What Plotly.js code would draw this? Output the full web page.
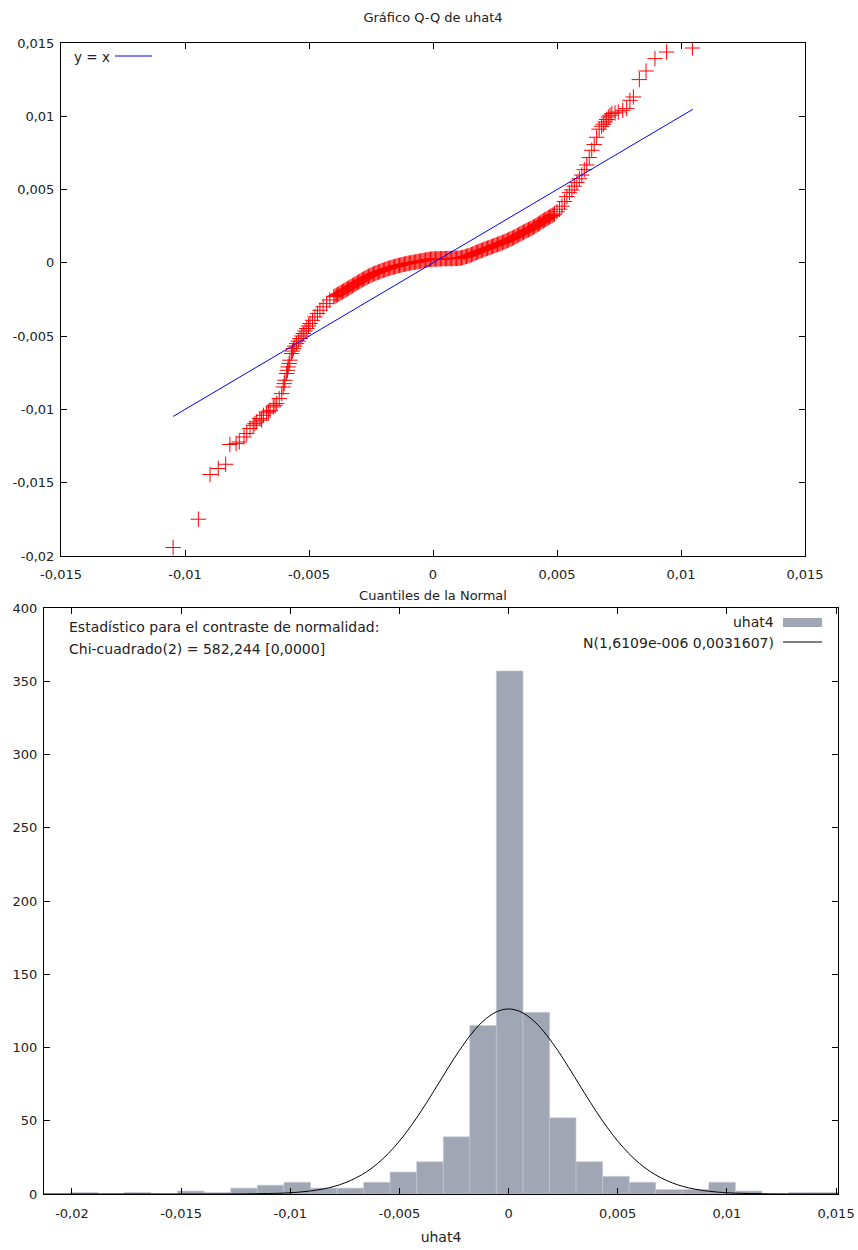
<!DOCTYPE html>
<html>
<head>
<meta charset="utf-8">
<script src="https://cdn.plot.ly/plotly-3.0.1.min.js"></script>
<style>html,body{margin:0;padding:0;background:#fff;}#chart{width:858px;height:1250px;}</style>
</head>
<body>
<div id="chart"></div>
<script>
// ---------- Q-Q plot data (normal quantile, sorted uhat4) ----------
const qqX = [
 -0.01048,-0.00946,-0.00899,-0.00866,-0.00836,-0.00819,-0.00794,-0.00781,-0.00762,-0.00751,
 -0.00738,-0.00725,-0.00718,-0.00711,-0.00698,-0.00691,-0.00684,-0.00671,-0.00664,-0.00657,
 -0.00644,-0.00637,-0.00630,-0.00620,-0.00610,-0.00604,-0.00600,-0.00597,-0.00590,-0.00587,
 -0.00584,-0.00580,-0.00577,-0.00570,-0.00567,-0.00563,-0.00557,-0.00550,-0.00543,-0.00536,
 -0.00529,-0.00523,-0.00516,-0.00509,-0.00502,-0.00496,-0.00486,-0.00476,-0.00466,-0.00456,
 -0.00443,-0.00429,-0.00416,
 -0.0040,-0.0039,-0.0038,-0.0037,-0.0036,-0.0035,-0.0034,-0.0033,-0.0032,-0.0031,
 -0.0030,-0.0029,-0.0028,-0.0027,-0.0026,-0.0025,-0.0024,-0.0023,-0.0022,-0.0021,
 -0.0020,-0.0019,-0.0018,-0.0017,-0.0016,-0.0015,-0.0014,-0.0013,-0.0012,-0.0011,
 -0.0010,-0.0009,-0.0008,-0.0007,-0.0006,-0.0005,-0.0004,-0.0003,-0.0002,-0.0001,
 0.0000,0.0001,0.0002,0.0003,0.0004,0.0005,0.0006,0.0007,0.0008,0.0009,
 0.0010,0.0011,0.0012,0.0013,0.0014,0.0015,0.0016,0.0017,0.0018,0.0019,
 0.0020,0.0021,0.0022,0.0023,0.0024,0.0025,0.0026,0.0027,0.0028,0.0029,
 0.0030,0.0031,0.0032,0.0033,0.0034,0.0035,0.0036,0.0037,0.0038,0.0039,
 0.0040,0.0041,0.0042,0.0043,0.0044,0.0045,0.0046,0.0047,0.0048,0.0049,
 0.0050,0.0051,0.0052,0.0053,0.0054,0.0055,0.0056,0.0057,0.0058,0.0059,
 0.0060,0.0061,0.0062,0.0063,0.0064,0.0065,0.0066,0.0067,
 0.00680,0.00687,0.00694,0.00700,0.00707,0.00714,0.00721,0.00734,0.00747,0.00765,
 0.00781,0.00794,0.00808,0.00832,0.00859,0.00895,0.00942,0.01046,
 -0.00395,-0.00385,-0.00375,-0.00365,-0.00355,-0.00345,-0.00335,-0.00325,-0.00315,-0.00305,
 -0.00295,-0.00285,-0.00275,-0.00265,-0.00255,-0.00245,-0.00235,-0.00225,-0.00215,-0.00205,
 -0.00195,-0.00185,-0.00175,-0.00165,-0.00155,-0.00145,-0.00135,-0.00125,-0.00115,-0.00105,
 -0.00095,-0.00085,-0.00075,-0.00065,-0.00055,-0.00045,-0.00035,-0.00025,-0.00015,-0.00005,
 0.00005,0.00015,0.00025,0.00035,0.00045,0.00055,0.00065,0.00075,0.00085,0.00095,
 0.00105,0.00115,0.00125,0.00135,0.00145,0.00155,0.00165,0.00175,0.00185,0.00195,
 0.00205,0.00215,0.00225,0.00235,0.00245,0.00255,0.00265,0.00275,0.00285,0.00295,
 0.00305,0.00315,0.00325,0.00335,0.00345,0.00355,0.00365,0.00375,0.00385,0.00395,
 0.00405,0.00415,0.00425,0.00435,0.00445,0.00455,0.00465,0.00475,0.00485
];
const qqY = [
 -0.01942,-0.01749,-0.01444,-0.01403,-0.01374,-0.01239,-0.01233,-0.01222,-0.01188,-0.01164,
 -0.01130,-0.01108,-0.01097,-0.01085,-0.01062,-0.01073,-0.01040,-0.01024,-0.01015,-0.01006,
 -0.00983,-0.00972,-0.00960,-0.00926,-0.00892,-0.00847,-0.00824,-0.00801,-0.00755,-0.00733,
 -0.00710,-0.00687,-0.00664,-0.00619,-0.00602,-0.00585,-0.00568,-0.00551,-0.00534,-0.00516,
 -0.00499,-0.00482,-0.00465,-0.00448,-0.00431,-0.00414,-0.00392,-0.00369,-0.00346,-0.00323,
 -0.00300,-0.00278,-0.00253,
 -0.002312,-0.002217,-0.002121,-0.002019,-0.001917,-0.001821,-0.001719,-0.001617,-0.001507,-0.001405,
 -0.001303,-0.001201,-0.001105,-0.001010,-0.000921,-0.000839,-0.000757,-0.000682,-0.000628,-0.000559,
 -0.000505,-0.000437,-0.000382,-0.000327,-0.000280,-0.000232,-0.000191,-0.000150,-0.000109,-0.000068,
 -0.000027,0.000000,0.000027,0.000061,0.000089,0.000123,0.000157,0.000184,0.000218,0.000246,
 0.000259,0.000266,0.000273,0.000280,0.000286,0.000286,0.000293,0.000293,0.000300,0.000307,
 0.000307,0.000321,0.000368,0.000423,0.000471,0.000525,0.000600,0.000675,0.000743,0.000812,
 0.000873,0.000941,0.001003,0.001064,0.001126,0.001194,0.001255,0.001316,0.001385,0.001453,
 0.001528,0.001610,0.001685,0.001767,0.001862,0.001958,0.002046,0.002135,0.002224,0.002306,
 0.002387,0.002490,0.002599,0.002708,0.002817,0.002926,0.003029,0.003131,0.003226,0.003329,
 0.003486,0.003656,0.003868,0.004181,0.004523,0.004788,0.004973,0.005232,0.005477,0.005737,
 0.005989,0.006358,0.006678,0.007183,0.007681,0.008070,0.008568,0.009120,
 0.009318,0.009460,0.009611,0.009780,0.009952,0.010070,0.010184,0.010225,0.010293,0.010409,
 0.010525,0.011091,0.011317,0.012503,0.013090,0.013936,0.014386,0.014659,
 -0.002265,-0.002169,-0.002070,-0.001968,-0.001869,-0.001770,-0.001668,-0.001562,-0.001456,-0.001354,
 -0.001252,-0.001153,-0.001058,-0.000966,-0.000880,-0.000798,-0.000720,-0.000655,-0.000594,-0.000532,
 -0.000471,-0.000410,-0.000355,-0.000304,-0.000256,-0.000212,-0.000171,-0.000130,-0.000089,-0.000048,
 -0.000014,0.000014,0.000044,0.000075,0.000106,0.000140,0.000171,0.000201,0.000232,0.000253,
 0.000263,0.000270,0.000277,0.000283,0.000286,0.000290,0.000293,0.000297,0.000304,0.000307,
 0.000314,0.000345,0.000396,0.000447,0.000498,0.000563,0.000638,0.000709,0.000778,0.000843,
 0.000907,0.000972,0.001034,0.001095,0.001160,0.001225,0.001286,0.001351,0.001419,0.001491,
 0.001569,0.001648,0.001726,0.001815,0.001910,0.002002,0.002091,0.002180,0.002265,0.002347,
 0.002439,0.002545,0.002654,0.002763,0.002872,0.002978,0.003080,0.003179,0.003278
];
const refLineX = [-0.01048, 0.01048];
const refLineY = [-0.01048, 0.01048];

// ---------- Histogram data ----------
const binCenters = [
 -0.01942,-0.01820,-0.01699,-0.01577,-0.01455,-0.01334,-0.01212,-0.01090,-0.00968,-0.00847,
 -0.00725,-0.00603,-0.00482,-0.00360,-0.00238,-0.00117,0.00005,0.00127,0.00248,0.00370,
 0.00492,0.00613,0.00735,0.00857,0.00978,0.01100,0.01222,0.01344,0.01465
];
const binCounts = [
 1,0,1,0,2,1,4,6,8,4,
 4,8,15,22,39,115,357,124,52,22,
 12,8,3,3,8,2,0,1,1
];
const binWidth = 0.001217;

// normal density curve
const normX = [
 -0.0213,-0.015,-0.014,-0.013,-0.012,-0.011,-0.010,-0.0095,-0.009,-0.0085,-0.008,-0.0075,
 -0.007,-0.0065,-0.006,-0.0055,-0.005,-0.0045,-0.004,-0.0035,-0.003,-0.0025,-0.002,-0.0015,
 -0.001,-0.0005,0,0.0005,0.001,0.0015,0.002,0.0025,0.003,0.0035,0.004,0.0045,0.005,0.0055,
 0.006,0.0065,0.007,0.0075,0.008,0.0085,0.009,0.0095,0.010,0.011,0.012,0.013,0.014,0.0151
];
const normY = [
 0,0,0,0,0.1,0.3,0.85,1.4,2.2,3.4,5.1,7.6,
 10.9,15.2,20.8,27.8,36.1,45.8,56.7,68.4,80.5,92.4,103.4,112.9,
 120.1,124.7,126.3,124.7,120.1,112.9,103.4,92.4,80.5,68.4,56.7,45.8,36.1,27.8,
 20.8,15.2,10.9,7.6,5.1,3.4,2.2,1.4,0.85,0.3,0.1,0,0,0
];

// ---------- Tick labels ----------
const qqXTickVals = [-0.015,-0.01,-0.005,0,0.005,0.01,0.015];
const qqXTickText = ['-0,015','-0,01','-0,005','0','0,005','0,01','0,015'];
const qqYTickVals = [-0.02,-0.015,-0.01,-0.005,0,0.005,0.01,0.015];
const qqYTickText = ['-0,02','-0,015','-0,01','-0,005','0','0,005','0,01','0,015'];
const hXTickVals = [-0.02,-0.015,-0.01,-0.005,0,0.005,0.01,0.015];
const hXTickText = ['-0,02','-0,015','-0,01','-0,005','0','0,005','0,01','0,015'];
const hYTickVals = [0,50,100,150,200,250,300,350,400];
const hYTickText = ['0','50','100','150','200','250','300','350','400'];

// ---------- Text ----------
const qqTitle = 'Gráfico Q-Q de uhat4';
const qqXTitle = 'Cuantiles de la Normal';
const qqLegend = 'y = x';
const hXTitle = 'uhat4';
const statLine1 = 'Estadístico para el contraste de normalidad:';
const statLine2 = 'Chi-cuadrado(2) = 582,244 [0,0000]';
const legHist = 'uhat4';
const legNorm = 'N(1,6109e-006 0,0031607)';

const W = 858, H = 1250;
const px = v => v / W;
const py = v => 1 - v / H;
const txt = '#222';
const FONT = 'DejaVu Sans';

const traces = [
  {x: qqX, y: qqY, xaxis: 'x', yaxis: 'y', type: 'scatter', mode: 'markers',
   marker: {symbol: 'cross-thin', size: 11, color: '#ff0000', line: {color: '#ff0000', width: 1}},
   showlegend: false, hoverinfo: 'skip'},
  {x: refLineX, y: refLineY, xaxis: 'x', yaxis: 'y', type: 'scatter', mode: 'lines',
   line: {color: '#0000ff', width: 1}, showlegend: false, hoverinfo: 'skip'},
  {x: binCenters, y: binCounts, xaxis: 'x2', yaxis: 'y2', type: 'bar', width: binWidth,
   marker: {color: '#a0a6b4', line: {color: '#c4c8d2', width: 0.6}}, showlegend: false, hoverinfo: 'skip'},
  {x: normX, y: normY, xaxis: 'x2', yaxis: 'y2', type: 'scatter', mode: 'lines',
   line: {color: '#000000', width: 1, shape: 'spline', smoothing: 1}, showlegend: false, hoverinfo: 'skip'}
];

const axBase = {
  showgrid: false, zeroline: false, showline: true, linecolor: '#000', linewidth: 1,
  mirror: 'ticks', ticks: 'inside', ticklen: 6, tickcolor: '#000', tickwidth: 1,
  tickfont: {family: FONT, size: 13, color: txt}, tickmode: 'array', automargin: false
};

const layout = {
  width: W, height: H, margin: {l: 0, r: 0, t: 0, b: 0},
  paper_bgcolor: '#fff', plot_bgcolor: '#fff', showlegend: false,
  font: {family: FONT, size: 13, color: txt},
  title: {text: qqTitle, x: px(433), xanchor: 'center', y: py(17), yanchor: 'middle',
          font: {family: FONT, size: 13, color: txt}},
  xaxis: Object.assign({}, axBase, {domain: [px(61), px(805)], range: [-0.015, 0.015],
          tickvals: qqXTickVals, ticktext: qqXTickText, anchor: 'y', ticklabelstandoff: 6,
          title: {text: qqXTitle, font: {family: FONT, size: 13, color: txt}, standoff: 10}}),
  yaxis: Object.assign({}, axBase, {domain: [py(556), py(43)], range: [-0.02, 0.015],
          tickvals: qqYTickVals, ticktext: qqYTickText, anchor: 'x', ticklabelstandoff: 3}),
  xaxis2: Object.assign({}, axBase, {domain: [px(44), px(838)], range: [-0.02128, 0.01509],
          tickvals: hXTickVals, ticktext: hXTickText, anchor: 'y2', ticklabelstandoff: 7,
          title: {text: hXTitle, font: {family: FONT, size: 14, color: txt}, standoff: 12}}),
  yaxis2: Object.assign({}, axBase, {domain: [py(1194), py(608)], range: [0, 400],
          tickvals: hYTickVals, ticktext: hYTickText, anchor: 'x2', ticklabelstandoff: 3}),
  bargap: 0,
  annotations: [
    {text: qqLegend, xref: 'paper', yref: 'paper', x: px(72), y: py(57), xanchor: 'left', yanchor: 'middle',
     showarrow: false, font: {family: FONT, size: 13.5, color: txt}},
    {text: statLine1, xref: 'paper', yref: 'paper', x: px(67), y: py(627), xanchor: 'left', yanchor: 'middle',
     showarrow: false, font: {family: FONT, size: 14, color: txt}},
    {text: statLine2, xref: 'paper', yref: 'paper', x: px(67), y: py(649), xanchor: 'left', yanchor: 'middle',
     showarrow: false, font: {family: FONT, size: 14, color: txt}},
    {text: legHist, xref: 'paper', yref: 'paper', x: px(776), y: py(622), xanchor: 'right', yanchor: 'middle',
     showarrow: false, font: {family: FONT, size: 14, color: txt}},
    {text: legNorm, xref: 'paper', yref: 'paper', x: px(776), y: py(643), xanchor: 'right', yanchor: 'middle',
     showarrow: false, font: {family: FONT, size: 14, color: txt}}
  ],
  shapes: [
    {type: 'line', xref: 'paper', yref: 'paper', x0: px(115), x1: px(152), y0: py(56), y1: py(56),
     line: {color: '#0000ff', width: 1}},
    {type: 'rect', xref: 'paper', yref: 'paper', x0: px(783), x1: px(822), y0: py(627), y1: py(618),
     fillcolor: '#a0a6b4', line: {width: 0}},
    {type: 'line', xref: 'paper', yref: 'paper', x0: px(783), x1: px(822), y0: py(642), y1: py(642),
     line: {color: '#000', width: 1}}
  ]
};

Plotly.newPlot('chart', traces, layout, {staticPlot: true, displayModeBar: false});
</script>
</body>
</html>
